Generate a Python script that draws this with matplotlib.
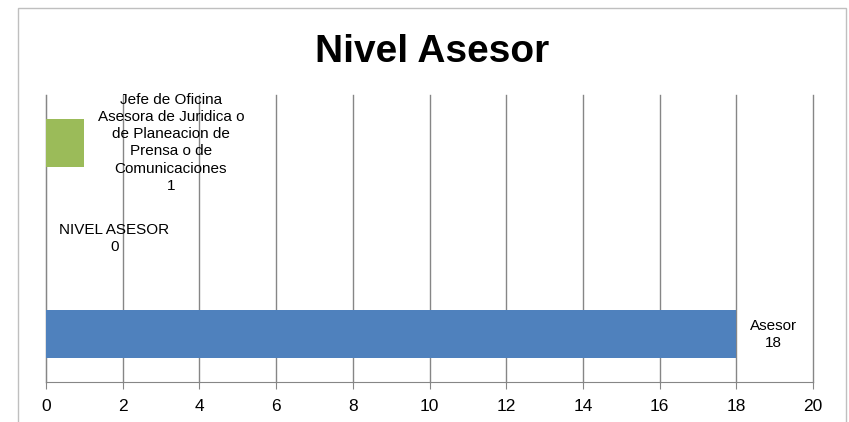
import matplotlib
matplotlib.use("Agg")
import matplotlib.pyplot as plt
from matplotlib.patches import Rectangle

# bottom to top
categories = [
    "Asesor",
    "NIVEL ASESOR",
    "Jefe de Oficina\nAsesora de Juridica o\nde Planeacion de\nPrensa o de\nComunicaciones",
]
values = [18, 0, 1]
colors = ["#4F81BD", "#C0504D", "#9BBB59"]
x_ticks = list(range(0, 21, 2))

plt.rcParams["font.family"] = ["Liberation Sans", "DejaVu Sans"]

fig = plt.figure(figsize=(8.49, 4.22), dpi=100)
fig.patches.append(Rectangle((18 / 849, -0.05), (846 - 18) / 849, 1.05 - 8 / 422,
                             transform=fig.transFigure, fill=False,
                             edgecolor="#BFBFBF", linewidth=1.0))

ax = fig.add_axes([46 / 849, 40 / 422, (813 - 46) / 849, (382 - 95) / 422])
ypos = list(range(len(categories)))
ax.barh(ypos, values, height=0.5, color=colors, zorder=3)

for y, v, name in zip(ypos, values, categories):
    ax.annotate(f"{name}\n{v}", xy=(v, y), xytext=(9.5, 0), textcoords="offset points",
                ha="left", va="center", multialignment="center", fontsize=11,
                linespacing=1.3, color="black", zorder=4)

ax.set_xlim(0, 20)
ax.set_ylim(-0.5, 2.5)
ax.set_xticks(x_ticks)
ax.set_yticks([])
ax.grid(axis="x", color="#868686", linewidth=1.0, zorder=0)
for line in ax.get_xgridlines():
    line.set_clip_on(False)
for side in ["top", "right"]:
    ax.spines[side].set_visible(False)
ax.spines["left"].set_color("#868686")
ax.spines["bottom"].set_color("#868686")
ax.tick_params(axis="x", length=5, color="#868686", labelsize=12.5, pad=7)

fig.text(432 / 849, 1 - 62 / 422, "Nivel Asesor", ha="center", va="baseline",
         fontsize=28, fontweight="bold")

fig.savefig("out.png", dpi=100)
